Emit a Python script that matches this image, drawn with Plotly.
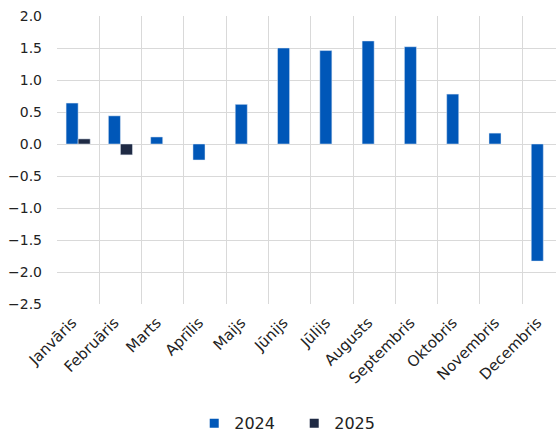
import plotly.graph_objects as go

months = ["Janvāris", "Februāris", "Marts", "Aprīlis", "Maijs", "Jūnijs",
          "Jūlijs", "Augusts", "Septembris", "Oktobris", "Novembris", "Decembris"]
v2024 = [0.64, 0.44, 0.11, -0.25, 0.62, 1.50, 1.46, 1.61, 1.52, 0.78, 0.17, -1.83]
v2025 = [0.08, -0.17, None, None, None, None, None, None, None, None, None, None]
series_names = ["2024", "2025"]
colors = ["#0057B8", "#1F2A44"]

fig = go.Figure()
for name, vals, col in zip(series_names, [v2024, v2025], colors):
    fig.add_bar(x=months, y=vals, name=name, marker_color=col, showlegend=False)
for name, col in zip(series_names, colors):
    fig.add_scatter(x=[None], y=[None], mode="markers", name=name,
                    marker=dict(symbol="square", size=9, color=col))

fig.update_layout(
    width=556, height=432,
    margin=dict(l=57, r=0, t=16, b=128, autoexpand=False),
    plot_bgcolor="white", paper_bgcolor="white",
    font=dict(family="DejaVu Sans, Verdana, sans-serif", size=15, color="#222222"),
    barmode="group", bargap=0.43, bargroupgap=0,
    legend=dict(orientation="h", x=0.275, xanchor="left", y=-0.355, yanchor="top",
                font=dict(size=16), itemwidth=30, entrywidth=55, traceorder="normal"),
    showlegend=True,
)
fig.update_xaxes(range=[-0.5, 11.3], tickangle=-45, showgrid=True, automargin=False,
                 gridcolor="#d9d9d9", gridwidth=1, tickson="boundaries",
                 ticks="", showline=False, zeroline=False, ticklabelstandoff=6,
                 ticklabelshift=-6, tickfont=dict(size=15))
fig.update_yaxes(range=[-2.5, 2.0], dtick=0.5, tickformat=".1f", automargin=False,
                 showgrid=True, gridcolor="#d9d9d9", gridwidth=1,
                 zeroline=True, zerolinecolor="#d9d9d9", zerolinewidth=1,
                 showline=False, ticks="", ticklabelstandoff=14,
                 tickfont=dict(size=14))
fig.write_html("out.html", config={"displayModeBar": False},
               post_script="document.body.style.margin='0';document.body.style.overflow='hidden';")
